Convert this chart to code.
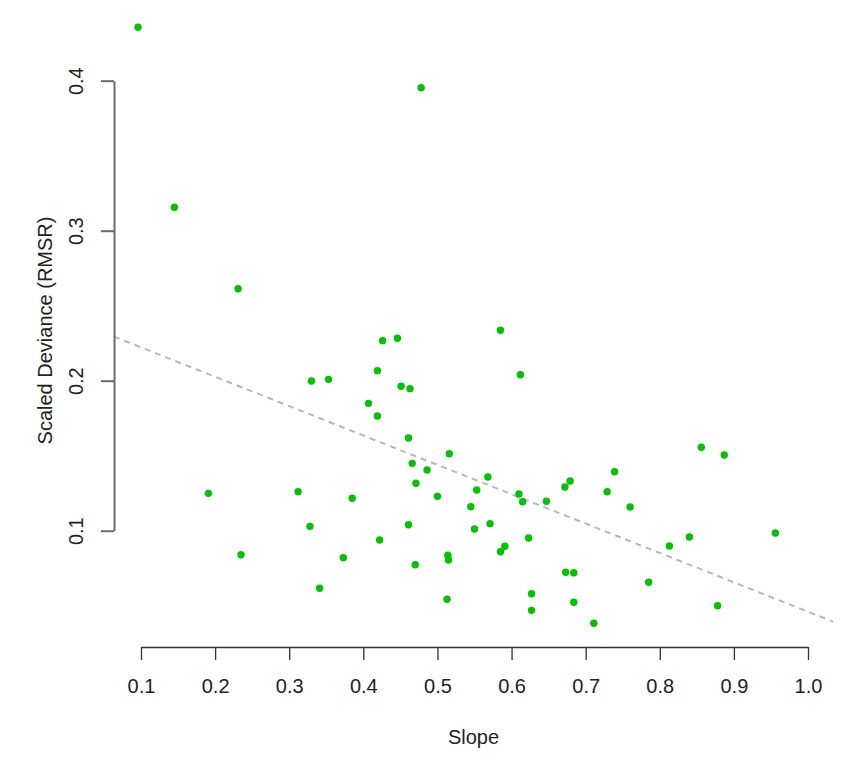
<!DOCTYPE html>
<html>
<head>
<meta charset="utf-8">
<script src="https://cdn.jsdelivr.net/npm/d3@7"></script>
<style>
  body { margin: 0; background: #fff; }
  .chart text { font-family: "Liberation Sans", Arial, sans-serif; fill: #222; }
</style>
</head>
<body>
<div class="chart"></div>
<script>
// slope values (x) and scaled deviance (y)
var slope = [
  0.096, 0.478, 0.145, 0.231, 0.585, 0.426, 0.446, 0.419, 0.330, 0.353,
  0.451, 0.463, 0.407, 0.419, 0.461, 0.516, 0.466, 0.486, 0.568, 0.471,
  0.553, 0.191, 0.312, 0.385, 0.500, 0.545, 0.328, 0.461, 0.571, 0.550,
  0.422, 0.591, 0.585, 0.235, 0.373, 0.514, 0.515, 0.470, 0.341, 0.513,
  0.612, 0.856, 0.887, 0.739, 0.679, 0.672, 0.729, 0.610, 0.615, 0.647,
  0.760, 0.623, 0.840, 0.956, 0.813, 0.673, 0.684, 0.785, 0.627, 0.684,
  0.627, 0.878, 0.711
];
var rmsr = [
  0.4356, 0.3953, 0.3156, 0.2613, 0.2336, 0.2267, 0.2283, 0.2067, 0.1998, 0.2009,
  0.1963, 0.1947, 0.1849, 0.1765, 0.1618, 0.1513, 0.1449, 0.1405, 0.1358, 0.1316,
  0.1271, 0.1249, 0.1260, 0.1216, 0.1229, 0.1160, 0.1029, 0.1040, 0.1047, 0.1011,
  0.0938, 0.0896, 0.0860, 0.0840, 0.0820, 0.0836, 0.0805, 0.0773, 0.0616, 0.0543,
  0.2040, 0.1556, 0.1505, 0.1393, 0.1331, 0.1291, 0.1260, 0.1245, 0.1193, 0.1196,
  0.1158, 0.0951, 0.0958, 0.0985, 0.0898, 0.0723, 0.0720, 0.0656, 0.0580, 0.0523,
  0.0469, 0.0500, 0.0383
];
var xTicks = [0.1, 0.2, 0.3, 0.4, 0.5, 0.6, 0.7, 0.8, 0.9, 1.0];
var yTicks = [0.1, 0.2, 0.3, 0.4];
// fitted line: rmsr = intercept + coef * slope
var fitIntercept = 0.2418;
var fitCoef = -0.1958;

var points = slope.map((s, i) => ({ x: s, y: rmsr[i] }));

var fullWidth = 850;
var fullHeight = 767;
var plot = { left: 114, right: 833, top: 4, bottom: 647 };

var svg = d3
  .select(".chart")
  .append("svg")
  .attr("width", fullWidth)
  .attr("height", fullHeight);

var xScale = d3
  .scaleLinear()
  .domain([0.1, 1.0])
  .range([141, 808]);

var yScale = d3
  .scaleLinear()
  .domain([0.1, 0.4])
  .range([530.7, 80.7]);

// plot region limits in data units (R extends range by 4%)
var xLim = [xScale.invert(plot.left), xScale.invert(plot.right)];

// regression line, clipped to the plot region
var fitLine = d3
  .line()
  .x(d => xScale(d))
  .y(d => yScale(fitIntercept + fitCoef * d));

svg
  .append("path")
  .datum(xLim)
  .attr("d", fitLine)
  .attr("fill", "none")
  .attr("stroke", "#b9b9b9")
  .attr("stroke-width", 2)
  .attr("stroke-dasharray", "6,5");

svg
  .selectAll("circle.pt")
  .data(points)
  .enter()
  .append("circle")
  .attr("class", "pt")
  .attr("cx", d => xScale(d.x))
  .attr("cy", d => yScale(d.y))
  .attr("r", 3.7)
  .style("fill", "#00c400");

// x axis
var xAxis = d3
  .axisBottom(xScale)
  .tickValues(xTicks)
  .tickFormat(d3.format(".1f"))
  .tickSizeInner(13)
  .tickSizeOuter(0);

var gx = svg
  .append("g")
  .attr("transform", `translate(0, ${plot.bottom})`)
  .call(xAxis);

gx.selectAll("path, line").attr("stroke", "#333").attr("stroke-width", 1.3);
gx
  .selectAll("text")
  .attr("y", 46)
  .attr("dy", 0)
  .style("font-size", "20px")
  .style("fill", "#222");

// y axis
var yAxis = d3
  .axisLeft(yScale)
  .tickValues(yTicks)
  .tickFormat(d3.format(".1f"))
  .tickSizeInner(13)
  .tickSizeOuter(0);

var gy = svg
  .append("g")
  .attr("transform", `translate(${plot.left}, 0)`)
  .call(yAxis);

gy.selectAll("path, line").attr("stroke", "#6a6a6a").attr("stroke-width", 2);
gy
  .selectAll("text")
  .attr("x", null)
  .attr("dy", null)
  .attr("transform", "translate(-31, 0) rotate(-90)")
  .style("text-anchor", "middle")
  .style("font-size", "20px")
  .style("fill", "#222");

// axis titles
svg
  .append("text")
  .attr("x", (plot.left + plot.right) / 2)
  .attr("y", 744)
  .attr("text-anchor", "middle")
  .style("font-size", "20px")
  .text("Slope");

svg
  .append("text")
  .attr("transform", `translate(52, ${(plot.top + plot.bottom) / 2 + 5}) rotate(-90)`)
  .attr("text-anchor", "middle")
  .style("font-size", "20px")
  .text("Scaled Deviance (RMSR)");
</script>
</body>
</html>
